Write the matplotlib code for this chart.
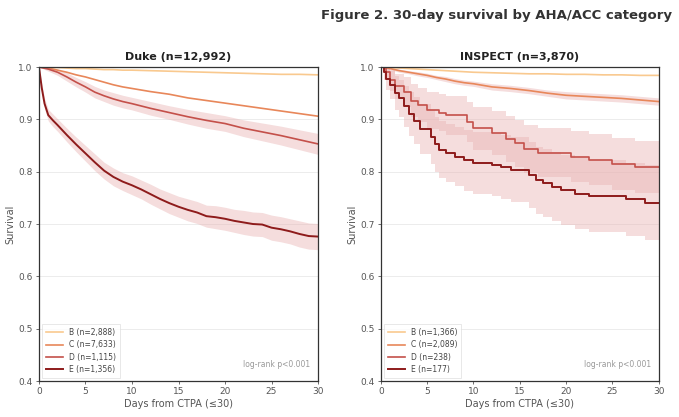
import matplotlib.pyplot as plt
import numpy as np

# colours per AHA/ACC category
cols = {"B": "#f9c98f", "C": "#e8875a", "D": "#c4504a", "E": "#8e1b1b"}
band_col = "#e9b4b4"

# ---- Duke (n=12,992) ----
duke_t = [0, 1, 2, 3, 4, 5, 6, 7, 8, 9, 10, 12, 14, 16, 18, 20, 22, 24, 26, 28, 30]
duke_B = [1.0, 0.999, 0.999, 0.998, 0.997, 0.997, 0.996, 0.995, 0.995, 0.994, 0.994,
          0.993, 0.992, 0.991, 0.990, 0.989, 0.988, 0.987, 0.986, 0.986, 0.985]
duke_C = [1.0, 0.998, 0.994, 0.990, 0.985, 0.981, 0.976, 0.971, 0.966, 0.962, 0.959,
          0.953, 0.948, 0.941, 0.936, 0.931, 0.926, 0.921, 0.916, 0.911, 0.906]
duke_D = [1.0, 0.996, 0.990, 0.981, 0.971, 0.962, 0.952, 0.945, 0.939, 0.934, 0.930,
          0.921, 0.913, 0.905, 0.898, 0.892, 0.883, 0.876, 0.869, 0.861, 0.853]
duke_D_hw = [0.0, 0.004, 0.006, 0.008, 0.009, 0.010, 0.011, 0.011, 0.012, 0.012, 0.012,
             0.013, 0.013, 0.014, 0.015, 0.015, 0.016, 0.017, 0.018, 0.019, 0.020]
duke_Et = [0, 0.3, 0.6, 1, 1.5, 2, 3, 4, 5, 6, 7, 8, 9, 10, 11, 12, 13, 14, 15, 16, 17,
           18, 19, 20, 21, 22, 23, 24, 25, 26, 27, 28, 29, 30]
duke_E = [1.0, 0.96, 0.93, 0.908, 0.898, 0.889, 0.870, 0.852, 0.835, 0.818, 0.802, 0.790,
          0.781, 0.774, 0.766, 0.757, 0.748, 0.740, 0.733, 0.727, 0.722, 0.715, 0.713,
          0.710, 0.706, 0.703, 0.700, 0.699, 0.693, 0.690, 0.686, 0.681, 0.677, 0.676]
duke_E_hw = [0.0, 0.008, 0.010, 0.011, 0.012, 0.012, 0.013, 0.014, 0.015, 0.016, 0.016,
             0.017, 0.017, 0.018, 0.018, 0.019, 0.019, 0.020, 0.020, 0.021, 0.021, 0.021,
             0.022, 0.022, 0.022, 0.023, 0.023, 0.023, 0.024, 0.024, 0.024, 0.025,
             0.025, 0.025]
duke_n = {"B": "2,888", "C": "7,633", "D": "1,115", "E": "1,356"}

# ---- INSPECT (n=3,870) ----
insp_t = [0, 1, 2, 3, 4, 5, 6, 7, 8, 9, 10, 12, 14, 16, 18, 20, 22, 24, 26, 28, 30]
insp_B = [1.0, 0.999, 0.998, 0.997, 0.996, 0.995, 0.994, 0.993, 0.992, 0.991, 0.990,
          0.989, 0.988, 0.987, 0.987, 0.986, 0.986, 0.985, 0.985, 0.984, 0.984]
insp_C = [1.0, 0.997, 0.993, 0.990, 0.987, 0.984, 0.980, 0.977, 0.973, 0.970, 0.968,
          0.962, 0.959, 0.955, 0.950, 0.946, 0.944, 0.942, 0.940, 0.937, 0.934]
insp_C_hw = [0.0, 0.002, 0.003, 0.003, 0.004, 0.004, 0.004, 0.005, 0.005, 0.005, 0.005,
             0.006, 0.006, 0.006, 0.006, 0.007, 0.007, 0.007, 0.007, 0.007, 0.007]
insp_Dt = [0, 0.5, 1.0, 1.5, 2.5, 3.3, 4.0, 5.0, 6.3, 7.0, 9.3, 10.0, 12.0, 13.5, 14.5,
           15.5, 17.0, 20.5, 22.5, 25.0, 27.5, 30]
insp_D = [1.0, 0.990, 0.975, 0.963, 0.952, 0.936, 0.927, 0.917, 0.913, 0.908, 0.895,
          0.883, 0.874, 0.863, 0.854, 0.844, 0.836, 0.829, 0.823, 0.815, 0.809, 0.809]
insp_D_hw = [0.0, 0.013, 0.020, 0.024, 0.028, 0.031, 0.033, 0.035, 0.036, 0.037, 0.039,
             0.041, 0.042, 0.044, 0.045, 0.046, 0.047, 0.048, 0.049, 0.050, 0.050, 0.050]
insp_Et = [0, 0.3, 0.6, 1.0, 1.5, 2.0, 2.5, 3.0, 3.6, 4.2, 5.4, 5.8, 6.3, 7.0, 8.0, 9.0,
           10.0, 12.0, 13.0, 14.0, 16.0, 16.7, 17.5, 18.5, 19.5, 21.0, 22.5, 26.5, 28.5, 30]
insp_E = [1.0, 0.990, 0.978, 0.965, 0.950, 0.940, 0.925, 0.911, 0.897, 0.882, 0.866,
          0.852, 0.842, 0.836, 0.829, 0.822, 0.817, 0.813, 0.809, 0.804, 0.793, 0.784,
          0.779, 0.771, 0.765, 0.758, 0.753, 0.747, 0.741, 0.741]
insp_E_hw = [0.0, 0.015, 0.022, 0.027, 0.032, 0.035, 0.039, 0.042, 0.045, 0.048, 0.051,
             0.053, 0.055, 0.056, 0.057, 0.058, 0.059, 0.060, 0.061, 0.062, 0.063, 0.064,
             0.065, 0.066, 0.067, 0.068, 0.069, 0.070, 0.072, 0.073]
insp_n = {"B": "1,366", "C": "2,089", "D": "238", "E": "177"}

fig = plt.figure(figsize=(6.79, 4.17), dpi=100)
fig.text(0.99, 0.962, "Figure 2. 30-day survival by AHA/ACC category",
         ha="right", va="center", fontsize=9.5, fontweight="bold", color="#333333")

ax1 = fig.add_axes([0.0574, 0.0863, 0.411, 0.753])
ax2 = fig.add_axes([0.561, 0.0863, 0.409, 0.753])


def draw_panel(ax, title, curves, nlabels):
    # curves: key, times, survival, half-width of band, stepped or not
    for key, t, s, hw, stepped in curves:
        lw = 1.4 if key == "E" else 1.2
        st = "post" if stepped else None
        if hw is not None:
            lo = np.array(s) - np.array(hw)
            hi = np.array(s) + np.array(hw)
            ax.fill_between(t, lo, hi, step=st, color=band_col, alpha=0.45, lw=0)
        lab = f"{key} (n={nlabels[key]})"
        if stepped:
            ax.step(t, s, where="post", color=cols[key], lw=lw, label=lab)
        else:
            ax.plot(t, s, color=cols[key], lw=lw, label=lab)
    ax.set_xlim(0, 30)
    ax.set_ylim(0.4, 1.0)
    ax.set_xticks([0, 5, 10, 15, 20, 25, 30])
    ax.set_yticks([0.4, 0.5, 0.6, 0.7, 0.8, 0.9, 1.0])
    ax.grid(axis="y", color="#ececec", lw=0.7)
    ax.set_axisbelow(True)
    ax.tick_params(labelsize=6.5, colors="#555555", length=2.5, width=0.6, pad=2)
    for sp in ax.spines.values():
        sp.set_color("#333333")
        sp.set_linewidth(0.9)
    ax.set_title(title, fontsize=8, fontweight="bold", color="#222222", pad=5)
    ax.set_xlabel("Days from CTPA (≤30)", fontsize=7, color="#555555", labelpad=2)
    ax.set_ylabel("Survival", fontsize=7, color="#555555", labelpad=2)
    leg = ax.legend(loc="lower left", fontsize=5.5, handlelength=2.2, frameon=True,
                    borderpad=0.5, labelspacing=0.45, fancybox=False,
                    borderaxespad=0.4)
    leg.get_frame().set_edgecolor("#dddddd")
    leg.get_frame().set_linewidth(0.6)
    for txt in leg.get_texts():
        txt.set_color("#444444")
    ax.text(29.2, 0.432, "log-rank p<0.001", fontsize=5.5, color="#999999",
            ha="right", va="center")


draw_panel(ax1, "Duke (n=12,992)", [
    ("B", duke_t, duke_B, None, False),
    ("C", duke_t, duke_C, None, False),
    ("D", duke_t, duke_D, duke_D_hw, False),
    ("E", duke_Et, duke_E, duke_E_hw, False),
], duke_n)

draw_panel(ax2, "INSPECT (n=3,870)", [
    ("B", insp_t, insp_B, None, False),
    ("C", insp_t, insp_C, insp_C_hw, False),
    ("D", insp_Dt, insp_D, insp_D_hw, True),
    ("E", insp_Et, insp_E, insp_E_hw, True),
], insp_n)

fig.savefig("out.png", dpi=100)
